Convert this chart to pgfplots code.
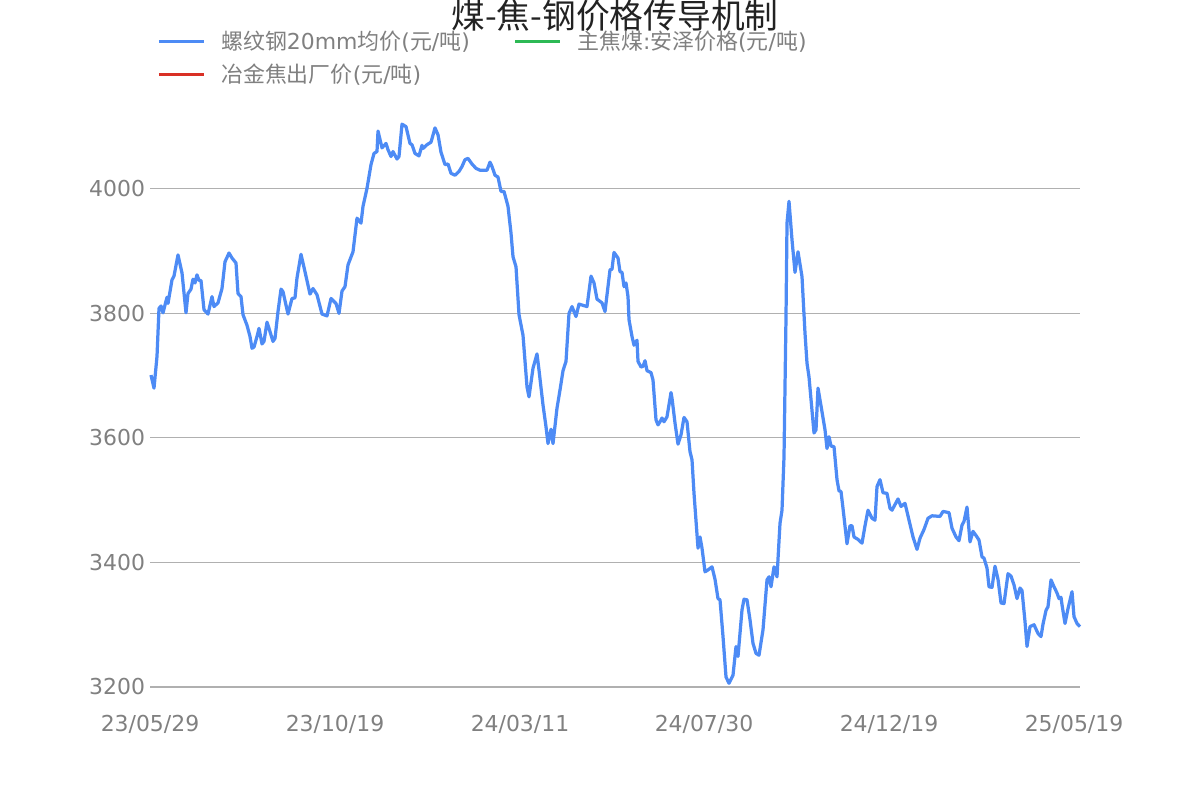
\documentclass[border=0pt]{standalone}
\usepackage{fontspec}
\setmainfont{DejaVu Sans}
\newfontfamily\cjk{Noto Sans CJK SC}
\usepackage{pgfplots}
\pgfplotsset{compat=1.18}
\definecolor{steel}{RGB}{77,139,245}
\definecolor{coal}{RGB}{45,185,85}
\definecolor{coke}{RGB}{217,48,37}
\definecolor{labelgray}{RGB}{128,128,128}
\definecolor{gridgray}{RGB}{176,176,176}
\definecolor{titlecol}{RGB}{34,34,34}
\newcommand{\yd}{({\cjk 元}/{\cjk 吨})}

\pgfplotstableread{
x y
1 3701
4 3680
7 3731
9 3808
11 3812
13 3801
17 3826
18 3816
22 3854
24 3860
28 3894
32 3865
36 3801
38 3832
41 3839
43 3855
45 3849
47 3862
49 3853
51 3853
54 3806
58 3799
62 3827
64 3811
68 3817
72 3840
75 3883
79 3897
82 3889
86 3881
88 3832
91 3827
93 3798
97 3781
100 3763
102 3744
104 3746
107 3763
109 3776
112 3751
114 3755
117 3786
119 3776
123 3755
125 3760
128 3803
131 3839
133 3835
138 3799
142 3824
145 3825
147 3857
151 3895
155 3867
160 3831
163 3840
167 3830
172 3799
177 3796
181 3824
186 3816
189 3800
192 3836
195 3843
198 3878
203 3899
207 3953
211 3945
213 3972
217 4001
221 4039
224 4057
227 4060
228 4093
232 4066
236 4073
238 4063
241 4052
243 4060
247 4048
249 4052
252 4104
256 4100
260 4073
262 4071
265 4057
269 4053
272 4070
273 4065
277 4071
281 4075
285 4098
288 4087
291 4059
295 4039
298 4040
301 4025
305 4022
309 4028
312 4036
315 4047
318 4049
322 4040
326 4033
330 4030
337 4030
340 4043
342 4036
345 4022
348 4019
351 3996
354 3996
358 3972
361 3929
363 3891
366 3875
369 3798
373 3765
377 3682
379 3666
383 3712
387 3735
389 3709
393 3653
396 3618
398 3591
401 3614
403 3591
407 3648
410 3677
413 3708
416 3723
419 3800
422 3811
426 3795
429 3815
437 3811
441 3860
444 3849
447 3823
452 3817
455 3803
460 3870
462 3871
464 3898
468 3889
470 3867
472 3866
474 3843
476 3849
478 3827
479 3790
482 3763
484 3749
487 3757
488 3723
491 3714
493 3715
495 3724
497 3708
501 3705
503 3693
506 3629
508 3621
510 3626
512 3632
514 3626
517 3634
521 3673
522 3664
525 3624
528 3590
531 3605
534 3633
537 3626
540 3578
542 3565
544 3511
548 3423
550 3441
552 3423
555 3385
558 3388
562 3393
565 3373
568 3342
570 3340
573 3281
576 3216
579 3206
583 3219
586 3265
588 3249
592 3324
594 3341
597 3340
600 3308
603 3270
606 3254
609 3251
613 3292
617 3372
619 3377
621 3361
624 3393
627 3377
630 3463
632 3484
634 3570
636 3795
637 3945
639 3980
642 3918
645 3866
648 3899
652 3859
655 3768
657 3720
659 3698
664 3608
666 3613
668 3680
672 3642
675 3613
677 3583
679 3602
681 3587
684 3586
687 3533
689 3515
691 3514
693 3487
697 3430
700 3459
702 3459
704 3441
708 3437
712 3431
715 3459
718 3484
722 3471
725 3468
727 3522
730 3533
733 3512
737 3511
740 3487
742 3484
748 3502
751 3490
755 3495
759 3468
763 3441
767 3421
770 3439
774 3453
778 3471
782 3475
790 3474
793 3482
799 3480
802 3455
806 3441
809 3435
812 3460
814 3466
817 3489
820 3433
823 3450
827 3441
829 3436
832 3409
834 3407
837 3391
839 3361
842 3360
845 3394
848 3373
851 3335
854 3334
858 3382
861 3378
864 3364
867 3342
870 3359
872 3355
875 3305
877 3265
880 3297
884 3300
888 3286
891 3281
893 3301
896 3323
898 3329
901 3372
904 3361
907 3351
909 3342
911 3344
912 3332
915 3302
918 3326
922 3353
924 3313
927 3302
930 3297
}\rebar

\begin{document}
\begin{tikzpicture}
\path[use as bounding box] (0mm,0mm) rectangle (300mm,200mm);
\begin{axis}[
    at={(37.5mm,28.25mm)}, anchor=south west,
    scale only axis,
    width=232.5mm, height=143.2mm,
    xmin=0, xmax=930,
    ymin=3200, ymax=4120,
    xtick={0,185,370,554,739,924},
    xticklabels={23/05/29,23/10/19,24/03/11,24/07/30,24/12/19,25/05/19},
    ytick={3200,3400,3600,3800,4000},
    ymajorgrids,
    grid style={gridgray, line width=0.75pt},
    axis line style={draw=none},
    major tick style={draw=none},
    /pgf/number format/assume math mode=true,
    /pgf/number format/set thousands separator={},
    tick label style={font=\fontsize{15.6}{18}\selectfont, text=labelgray},
    xticklabel style={yshift=-5.8mm},
    clip=false,
    title={\cjk 煤-焦-钢价格传导机制},
    title style={at={(0.5,1.1575)}, anchor=center, font=\fontsize{24}{28}\selectfont, text=titlecol},
    legend columns=2,
    legend cell align=left,
    legend image code/.code={\draw[#1] (0mm,0mm) -- (11.25mm,0mm);},
    legend style={at={(0.0076,1.151)}, anchor=north west, draw=none, fill=none,
        inner xsep=0pt, inner ysep=0pt,
        font=\fontsize{15.6}{18}\selectfont, text=labelgray,
        /tikz/every odd column/.append style={column sep=3.2mm},
        /tikz/every even column/.append style={column sep=10.2mm},
        row sep=4.8pt},
]
\addplot[steel, line width=2.3pt, line join=round] table[x=x, y=y] {\rebar};
\addlegendentry{{\cjk 螺纹钢}20mm{\cjk 均价}\yd}
\addlegendimage{coal, line width=2.3pt}
\addlegendentry{{\cjk 主焦煤}:{\cjk 安泽价格}\yd}
\addlegendimage{coke, line width=2.3pt}
\addlegendentry{{\cjk 冶金焦出厂价}\yd}
\end{axis}
\end{tikzpicture}
\end{document}
